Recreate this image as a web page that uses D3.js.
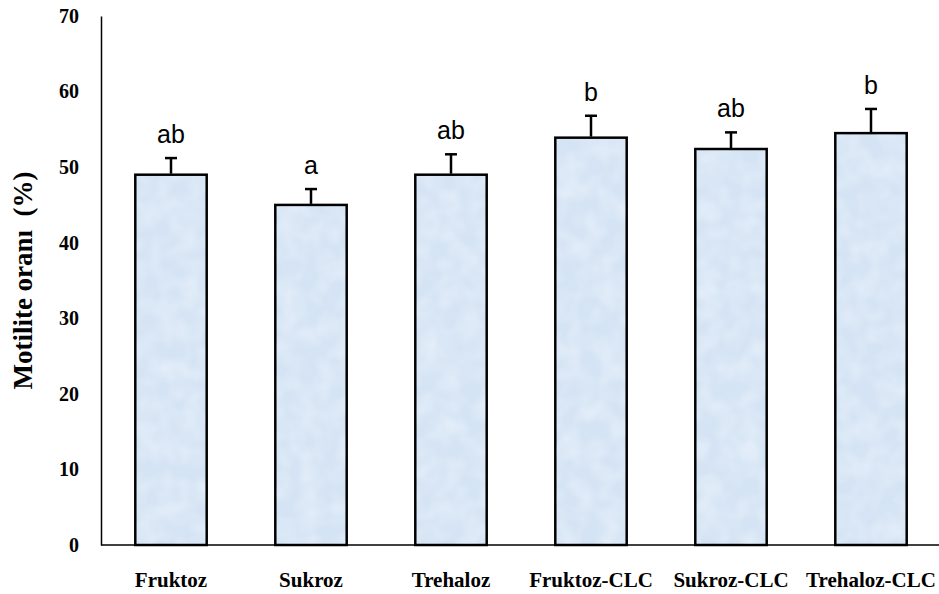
<!DOCTYPE html>
<html>
  <head>
    <script src="https://d3js.org/d3.v7.min.js"></script>
    <style>
      html,
      body {
        margin: 0;
        padding: 0;
        background: #fff;
      }
      #chart {
        width: 939px;
        height: 594px;
      }
    </style>
  </head>
  <body>
    <div id="chart"></div>
    <script>
      // values
      const categories = [
        "Fruktoz",
        "Sukroz",
        "Trehaloz",
        "Fruktoz-CLC",
        "Sukroz-CLC",
        "Trehaloz-CLC",
      ];
      const means = [49.0, 45.0, 49.0, 53.9, 52.4, 54.5];
      const errors = [2.2, 2.1, 2.7, 2.9, 2.2, 3.2];
      const letters = ["ab", "a", "ab", "b", "ab", "b"];
      const yTicks = [0, 10, 20, 30, 40, 50, 60, 70];

      const width = 939;
      const height = 594;
      const margin = { top: 16, right: -2, bottom: 49, left: 101 };

      const svg = d3
        .select("#chart")
        .append("svg")
        .attr("width", width)
        .attr("height", height);

      // light blue paper-like fill
      const defs = svg.append("defs");
      const filter = defs
        .append("filter")
        .attr("id", "grain")
        .attr("x", 0)
        .attr("y", 0)
        .attr("width", 1)
        .attr("height", 1)
        .attr("color-interpolation-filters", "sRGB");
      filter
        .append("feTurbulence")
        .attr("type", "fractalNoise")
        .attr("baseFrequency", 0.05)
        .attr("numOctaves", 2)
        .attr("seed", 4)
        .attr("result", "noise");
      filter
        .append("feColorMatrix")
        .attr("in", "noise")
        .attr("type", "matrix")
        .attr(
          "values",
          "0 0 0 0 0.95  0 0 0 0 0.97  0 0 0 0 1  0.9 0 0 0 -0.3"
        )
        .attr("result", "tint");
      filter
        .append("feComposite")
        .attr("in", "tint")
        .attr("in2", "SourceGraphic")
        .attr("operator", "in");

      const x = d3
        .scaleBand()
        .domain(categories)
        .range([margin.left, width - margin.right])
        .paddingInner(0.49)
        .paddingOuter(0.245);

      const y = d3
        .scaleLinear()
        .domain([0, 70])
        .range([height - margin.bottom, margin.top]);

      // y axis: line + labels, no ticks
      const yAxis = svg
        .append("g")
        .attr("transform", `translate(${margin.left},0)`)
        .call(d3.axisLeft(y).tickValues(yTicks).tickSize(0).tickPadding(22));
      yAxis
        .select(".domain")
        .attr("stroke", "#000")
        .attr("stroke-width", 1.5);
      yAxis
        .selectAll("text")
        .attr("font-family", "'Liberation Serif', 'Times New Roman', serif")
        .attr("font-weight", "bold")
        .attr("font-size", 20)
        .attr("fill", "#000");

      // bars
      svg
        .selectAll("rect.bar")
        .data(categories)
        .enter()
        .append("rect")
        .classed("bar", true)
        .attr("x", (d) => x(d))
        .attr("y", (d, i) => y(means[i]))
        .attr("width", x.bandwidth())
        .attr("height", (d, i) => y(0) - y(means[i]))
        .attr("fill", "#d5e4f4")
        .attr("stroke", "#000")
        .attr("stroke-width", 2.5);

      // texture over bars
      svg
        .selectAll("rect.tex")
        .data(categories)
        .enter()
        .append("rect")
        .classed("tex", true)
        .attr("x", (d) => x(d) + 1.5)
        .attr("y", (d, i) => y(means[i]) + 1.5)
        .attr("width", x.bandwidth() - 3)
        .attr("height", (d, i) => y(0) - y(means[i]) - 3)
        .attr("fill", "#fff")
        .attr("filter", "url(#grain)");

      // upper error bars
      const err = svg
        .selectAll("g.err")
        .data(categories)
        .enter()
        .append("g")
        .classed("err", true)
        .attr("stroke", "#000")
        .attr("stroke-width", 2.5);
      err
        .append("line")
        .attr("x1", (d) => x(d) + x.bandwidth() / 2)
        .attr("x2", (d) => x(d) + x.bandwidth() / 2)
        .attr("y1", (d, i) => y(means[i]) - 1)
        .attr("y2", (d, i) => y(means[i] + errors[i]));
      err
        .append("line")
        .attr("x1", (d) => x(d) + x.bandwidth() / 2 - 6)
        .attr("x2", (d) => x(d) + x.bandwidth() / 2 + 6)
        .attr("y1", (d, i) => y(means[i] + errors[i]))
        .attr("y2", (d, i) => y(means[i] + errors[i]));

      // significance letters
      svg
        .selectAll("text.letter")
        .data(categories)
        .enter()
        .append("text")
        .classed("letter", true)
        .attr("x", (d) => x(d) + x.bandwidth() / 2)
        .attr("y", (d, i) => y(means[i] + errors[i]) - 15)
        .attr("text-anchor", "middle")
        .attr("font-family", "'Liberation Sans', Arial, sans-serif")
        .attr("font-size", 25)
        .attr("fill", "#000")
        .text((d, i) => letters[i]);

      // x axis line
      svg
        .append("line")
        .attr("x1", margin.left)
        .attr("x2", width)
        .attr("y1", y(0))
        .attr("y2", y(0))
        .attr("stroke", "#000")
        .attr("stroke-width", 1.5);

      // category labels
      svg
        .selectAll("text.cat")
        .data(categories)
        .enter()
        .append("text")
        .classed("cat", true)
        .attr("x", (d) => x(d) + x.bandwidth() / 2)
        .attr("y", 587)
        .attr("text-anchor", "middle")
        .attr("font-family", "'Liberation Serif', 'Times New Roman', serif")
        .attr("font-weight", "bold")
        .attr("font-size", 21)
        .attr("fill", "#000")
        .text((d) => d);

      // y title
      svg
        .append("text")
        .attr(
          "transform",
          `translate(32,${(y(0) + y(70)) / 2}) rotate(-90)`
        )
        .attr("text-anchor", "middle")
        .attr("font-family", "'Liberation Serif', 'Times New Roman', serif")
        .attr("font-weight", "bold")
        .attr("font-size", 27)
        .attr("fill", "#000")
        .style("white-space", "pre")
        .text("Motilite oranı  (%)");
    </script>
  </body>
</html>
